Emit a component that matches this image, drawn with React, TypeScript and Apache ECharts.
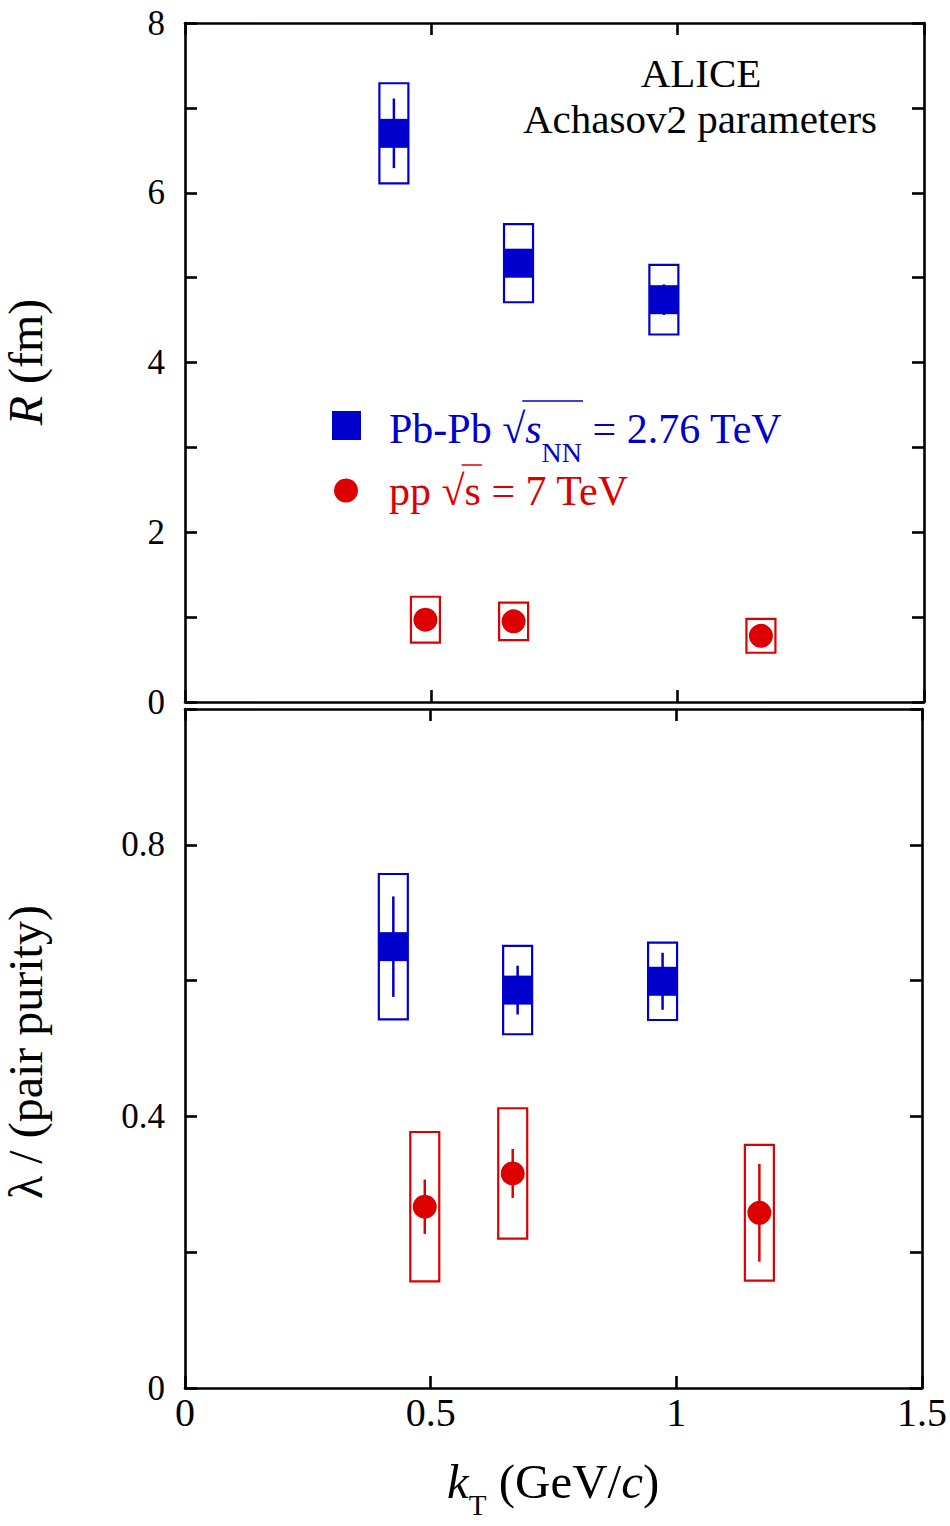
import React, { useEffect, useRef } from "react";
import * as echarts from "echarts";

const FONT = "'Liberation Serif', 'Times New Roman', serif";
const BLUE = "#0000cd";
const RED = "#dd0000";

// kT positions (GeV/c)
const kT_PbPb = [0.424, 0.677, 0.972];
const kT_pp = [0.488, 0.667, 1.169];

// Top panel: R (fm)
const R_PbPb = [6.70, 5.17, 4.74];
const R_PbPb_stat = [0.41, 0.04, 0.18];
const R_PbPb_sys = [0.59, 0.46, 0.41];
const R_pp = [0.97, 0.95, 0.78];
const R_pp_stat = [0.05, 0.05, 0.04];
const R_pp_sys = [0.27, 0.22, 0.20];

// Bottom panel: lambda / (pair purity)
const L_PbPb = [0.650, 0.586, 0.599];
const L_PbPb_stat = [0.074, 0.036, 0.042];
const L_PbPb_sys = [0.107, 0.065, 0.057];
const L_pp = [0.267, 0.316, 0.258];
const L_pp_stat = [0.040, 0.036, 0.072];
const L_pp_sys = [0.110, 0.096, 0.100];

// Tick labels
const rTickLabels = [0, 2, 4, 6, 8];
const lambdaTickLabels = [0, 0.4, 0.8];
const kTTickLabels = [0, 0.5, 1, 1.5];

const measureCtx =
  typeof document !== "undefined"
    ? document.createElement("canvas").getContext("2d")
    : null;
function tw(t: string, size: number, italic?: boolean) {
  if (!measureCtx) return t.length * size * 0.5;
  measureCtx.font = `${italic ? "italic " : ""}${size}px ${FONT}`;
  return measureCtx.measureText(t).width;
}

type Seg = { t: string; size: number; italic?: boolean; dy?: number };
function runs(segs: Seg[], x0: number, base: number, color: string) {
  const els: any[] = [];
  const xs: number[] = [];
  let x = x0;
  segs.forEach((s) => {
    xs.push(x);
    els.push({
      type: "text",
      x,
      y: base + (s.dy || 0) - 0.34 * s.size,
      z: 10,
      style: {
        text: s.t,
        fontSize: s.size,
        fontFamily: FONT,
        fontStyle: s.italic ? "italic" : "normal",
        fill: color,
        align: "left",
        verticalAlign: "middle",
      },
    });
    x += tw(s.t, s.size, s.italic);
  });
  xs.push(x);
  return { els, xs };
}

function errData(xs: number[], ys: number[], st: number[], sy: number[]) {
  return xs.map((x, i) => [x, ys[i], st[i], sy[i]]);
}

function errSeries(data: number[][], color: string, xi: number, yi: number) {
  return {
    type: "custom",
    xAxisIndex: xi,
    yAxisIndex: yi,
    z: 2,
    encode: { x: 0, y: 1 },
    data,
    renderItem: (params: any, api: any) => {
      const x = api.value(0);
      const y = api.value(1);
      const st = api.value(2);
      const sy = api.value(3);
      const c = api.coord([x, y]);
      const bt = api.coord([x, y + sy]);
      const bb = api.coord([x, y - sy]);
      const st1 = api.coord([x, y + st]);
      const st2 = api.coord([x, y - st]);
      const hw = 14.5;
      return {
        type: "group",
        children: [
          {
            type: "rect",
            shape: { x: c[0] - hw, y: bt[1], width: hw * 2, height: bb[1] - bt[1] },
            style: { fill: "none", stroke: color, lineWidth: 2.2 },
          },
          {
            type: "line",
            shape: { x1: c[0], y1: st1[1], x2: c[0], y2: st2[1] },
            style: { stroke: color, lineWidth: 2.5 },
          },
        ],
      };
    },
  };
}

function ptSeries(xs: number[], ys: number[], symbol: string, size: number, color: string, xi: number, yi: number) {
  return {
    type: "scatter",
    xAxisIndex: xi,
    yAxisIndex: yi,
    z: 3,
    symbol,
    symbolSize: size,
    itemStyle: { color, opacity: 1 },
    data: xs.map((x, i) => [x, ys[i]]),
  };
}

const axisLineStyle = { show: true, onZero: false, lineStyle: { color: "#000", width: 2.6 } };
const tickStyle = { show: true, inside: true, length: 12, lineStyle: { color: "#000", width: 2.6 } };

function xAxes(grid: number, showLabels: boolean) {
  const base = {
    type: "value",
    gridIndex: grid,
    min: 0,
    max: 1.5,
    interval: 0.5,
    axisLine: axisLineStyle,
    axisTick: tickStyle,
    splitLine: { show: false },
  };
  return [
    {
      ...base,
      position: "bottom",
      axisLabel: showLabels
        ? {
            show: true,
            fontSize: 40,
            fontFamily: FONT,
            color: "#000",
            margin: 4,
            showMinLabel: true,
            showMaxLabel: true,
            formatter: (v: number) =>
              kTTickLabels.some((t) => Math.abs(t - v) < 1e-6) ? String(+v.toFixed(2)) : "",
          }
        : { show: false },
    },
    { ...base, position: "top", axisLabel: { show: false } },
  ];
}

function yAxes(grid: number, max: number, interval: number, labels: number[]) {
  const base = {
    type: "value",
    gridIndex: grid,
    min: 0,
    max,
    interval,
    axisLine: axisLineStyle,
    axisTick: tickStyle,
    splitLine: { show: false },
  };
  return [
    {
      ...base,
      position: "left",
      axisLabel: {
        show: true,
        fontSize: 35,
        fontFamily: FONT,
        color: "#000",
        margin: 20,
        showMinLabel: true,
        showMaxLabel: true,
        formatter: (v: number) =>
          labels.some((t) => Math.abs(t - v) < 1e-6) ? String(+v.toFixed(2)) : "",
      },
    },
    { ...base, position: "right", axisLabel: { show: false } },
  ];
}

export default function App() {
  const ref = useRef<HTMLDivElement>(null);
  useEffect(() => {
    if (!ref.current) return;
    const chart = echarts.init(ref.current, null, { renderer: "svg" });

    // Legend texts
    const blue = runs(
      [
        { t: "Pb-Pb \u221A", size: 42 },
        { t: "s", size: 42, italic: true },
        { t: "NN", size: 28, dy: 19 },
        { t: " = 2.76 TeV", size: 42 },
      ],
      389,
      443,
      BLUE
    );
    const red = runs(
      [
        { t: "pp \u221A", size: 42 },
        { t: "s", size: 42 },
        { t: " = 7 TeV", size: 42 },
      ],
      389,
      505,
      RED
    );
    const kt = runs(
      [
        { t: "k", size: 49, italic: true },
        { t: "T", size: 29, dy: 17 },
        { t: " (GeV/", size: 49 },
        { t: "c", size: 49, italic: true },
        { t: ")", size: 49 },
      ],
      447,
      1498,
      "#000"
    );

    const graphics: any[] = [
      ...blue.els,
      {
        type: "line",
        z: 10,
        shape: { x1: blue.xs[1] - 3, y1: 401, x2: blue.xs[3] + 1, y2: 401 },
        style: { stroke: BLUE, lineWidth: 1.5 },
      },
      ...red.els,
      {
        type: "line",
        z: 10,
        shape: { x1: red.xs[1] - 3, y1: 465, x2: red.xs[2] + 1, y2: 465 },
        style: { stroke: RED, lineWidth: 1.5 },
      },
      {
        type: "rect",
        z: 10,
        shape: { x: 332, y: 411, width: 29, height: 29 },
        style: { fill: BLUE },
      },
      {
        type: "circle",
        z: 10,
        shape: { cx: 346, cy: 490.5, r: 12 },
        style: { fill: RED },
      },
      {
        type: "text",
        z: 10,
        x: 701,
        y: 87 - 0.34 * 41,
        style: { text: "ALICE", fontSize: 41, fontFamily: FONT, fill: "#000", align: "center", verticalAlign: "middle" },
      },
      {
        type: "text",
        z: 10,
        x: 700,
        y: 133 - 0.34 * 41,
        style: {
          text: "Achasov2 parameters",
          fontSize: 41,
          fontFamily: FONT,
          fill: "#000",
          align: "center",
          verticalAlign: "middle",
        },
      },
      ...kt.els,
      {
        type: "text",
        z: 10,
        x: 25,
        y: 362,
        rotation: Math.PI / 2,
        style: {
          text: "{i|R}{m| (fm)}",
          align: "center",
          verticalAlign: "middle",
          rich: {
            i: { fontSize: 48, fontFamily: FONT, fontStyle: "italic", fill: "#000" },
            m: { fontSize: 48, fontFamily: FONT, fill: "#000" },
          },
        },
      },
      {
        type: "text",
        z: 10,
        x: 25,
        y: 1052,
        rotation: Math.PI / 2,
        style: {
          text: "\u03BB / (pair purity)",
          fontSize: 48,
          fontFamily: FONT,
          fill: "#000",
          align: "center",
          verticalAlign: "middle",
        },
      },
    ];

    const option: any = {
      animation: false,
      backgroundColor: "#fff",
      grid: [
        { left: 185, top: 23, width: 739, height: 679 },
        { left: 185, top: 709, width: 739, height: 679 },
      ],
      xAxis: [...xAxes(0, false), ...xAxes(1, true)],
      yAxis: [...yAxes(0, 8, 1, rTickLabels), ...yAxes(1, 1, 0.2, lambdaTickLabels)],
      series: [
        errSeries(errData(kT_PbPb, R_PbPb, R_PbPb_stat, R_PbPb_sys), BLUE, 0, 0),
        ptSeries(kT_PbPb, R_PbPb, "rect", 29, BLUE, 0, 0),
        errSeries(errData(kT_pp, R_pp, R_pp_stat, R_pp_sys), RED, 0, 0),
        ptSeries(kT_pp, R_pp, "circle", 24, RED, 0, 0),
        errSeries(errData(kT_PbPb, L_PbPb, L_PbPb_stat, L_PbPb_sys), BLUE, 2, 2),
        ptSeries(kT_PbPb, L_PbPb, "rect", 29, BLUE, 2, 2),
        errSeries(errData(kT_pp, L_pp, L_pp_stat, L_pp_sys), RED, 2, 2),
        ptSeries(kT_pp, L_pp, "circle", 24, RED, 2, 2),
      ],
      graphic: graphics,
    };
    chart.setOption(option);
    return () => chart.dispose();
  }, []);

  return (
    <div
      ref={ref}
      style={{ position: "absolute", left: 0, top: 0, width: 950, height: 1526, background: "#fff" }}
    />
  );
}
